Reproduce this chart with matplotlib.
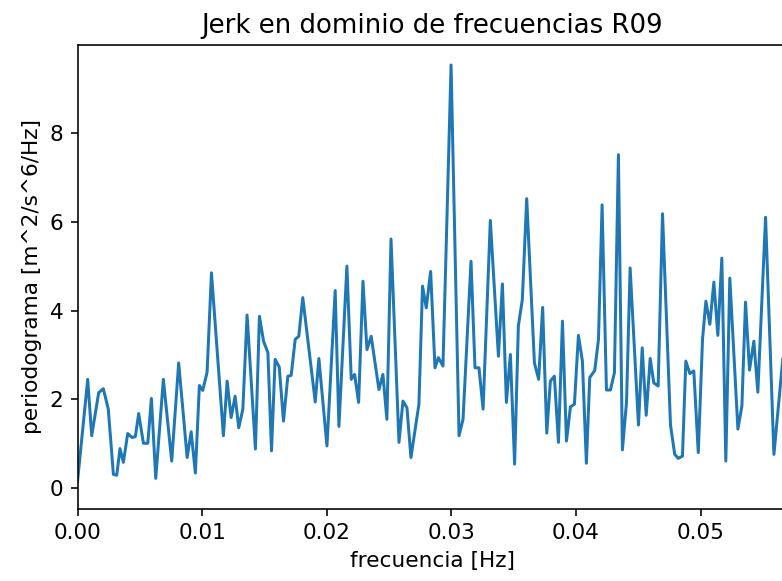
import numpy as np
import matplotlib
matplotlib.use("Agg")
import matplotlib.pyplot as plt

# frequency [Hz] and periodogram values
freq = [
    0.0, 0.00082, 0.00114, 0.0017, 0.00207, 0.00247, 0.00288, 0.00315, 0.00341, 0.00368,
    0.00403, 0.00438, 0.00464, 0.00491, 0.00529, 0.00564, 0.00593, 0.00628, 0.00689, 0.00756,
    0.00812, 0.00880, 0.00912, 0.00946, 0.00978, 0.01005, 0.0104, 0.01075, 0.01171, 0.01201,
    0.01233, 0.01265, 0.01294, 0.01327, 0.01361, 0.01428, 0.0146, 0.01493, 0.01528, 0.01557,
    0.01586, 0.01619, 0.01653, 0.01688, 0.01715, 0.01747, 0.01776, 0.01808, 0.01908, 0.01937,
    0.02002, 0.02068, 0.02098, 0.02162, 0.02197, 0.02224, 0.02256, 0.02291, 0.02323, 0.02357,
    0.02419, 0.02451, 0.02483, 0.02516, 0.0258, 0.02612, 0.02644, 0.02676, 0.0274, 0.02769,
    0.02799, 0.02834, 0.02869, 0.02896, 0.02933, 0.02998, 0.03062, 0.03094, 0.03158, 0.0319,
    0.03222, 0.03255, 0.03313, 0.03378, 0.0341, 0.03442, 0.03474, 0.03508, 0.03538, 0.0357,
    0.03605, 0.03667, 0.03701, 0.03733, 0.03766, 0.03795, 0.03827, 0.0386, 0.03892, 0.03924,
    0.03956, 0.03988, 0.0402, 0.04052, 0.04084, 0.04111, 0.04151, 0.04181, 0.0421, 0.04245,
    0.04277, 0.04309, 0.04341, 0.04373, 0.04406, 0.04435, 0.04502, 0.04532, 0.04564, 0.04596,
    0.04625, 0.0466, 0.04695, 0.04759, 0.04793, 0.04821, 0.04855, 0.04882, 0.04914, 0.04946,
    0.04982, 0.05016, 0.05043, 0.05075, 0.05107, 0.05139, 0.05171, 0.05203, 0.05235, 0.053,
    0.05332, 0.05361, 0.05393, 0.05428, 0.0546, 0.05522, 0.05589, 0.0566,
]
periodograma = [
    0.15, 2.45, 1.18, 2.15, 2.24, 1.78, 0.31, 0.29, 0.89, 0.58,
    1.23, 1.14, 1.16, 1.68, 1.01, 1.01, 2.02, 0.22, 2.45, 0.61,
    2.82, 0.69, 1.27, 0.34, 2.31, 2.20, 2.61, 4.85, 1.18, 2.41,
    1.59, 2.07, 1.36, 1.78, 3.90, 0.88, 3.87, 3.31, 3.05, 0.84,
    2.90, 2.73, 1.51, 2.52, 2.54, 3.35, 3.42, 4.29, 1.94, 2.92,
    0.95, 4.45, 1.39, 5.00, 2.45, 2.56, 1.93, 4.66, 3.12, 3.42,
    2.22, 2.56, 1.55, 5.61, 1.03, 1.96, 1.81, 0.69, 1.89, 4.55,
    4.06, 4.88, 2.71, 2.94, 2.75, 9.53, 1.18, 1.55, 5.11, 2.71,
    2.71, 1.78, 6.03, 2.97, 4.60, 1.93, 3.01, 0.54, 3.65, 4.25,
    6.52, 2.82, 2.45, 4.07, 1.24, 2.41, 2.52, 1.03, 3.76, 1.06,
    1.83, 1.89, 3.44, 2.86, 0.56, 2.49, 2.65, 3.35, 6.38, 2.21,
    2.21, 2.60, 7.51, 0.86, 1.93, 4.96, 1.42, 3.16, 1.64, 2.92,
    2.37, 2.30, 6.18, 1.42, 0.76, 0.67, 0.72, 2.86, 2.58, 2.64,
    0.80, 3.35, 4.21, 3.69, 4.64, 3.44, 5.18, 0.61, 4.73, 1.33,
    1.85, 4.19, 2.66, 3.31, 2.16, 6.10, 0.76, 2.90,
]

plt.rcParams["font.size"] = 10.8

fig, ax = plt.subplots(figsize=(782 / 144, 581 / 144), dpi=144)
# axes runs slightly past the right edge, as in the cropped original
ax.set_position([77.5 / 782, 72 / 581, 709 / 782, 464 / 581])

ax.plot(freq, periodograma, color="#1f77b4", linewidth=1.5)
ax.set_xlim(0, 0.0569)
ax.set_ylim(-0.47, 9.98)
ax.set_title("Jerk en dominio de frecuencias R09", fontsize=13)
ax.set(xlabel="frecuencia [Hz]", ylabel="periodograma [m^2/s^6/Hz]")

fig.savefig("out.png", dpi=144)
